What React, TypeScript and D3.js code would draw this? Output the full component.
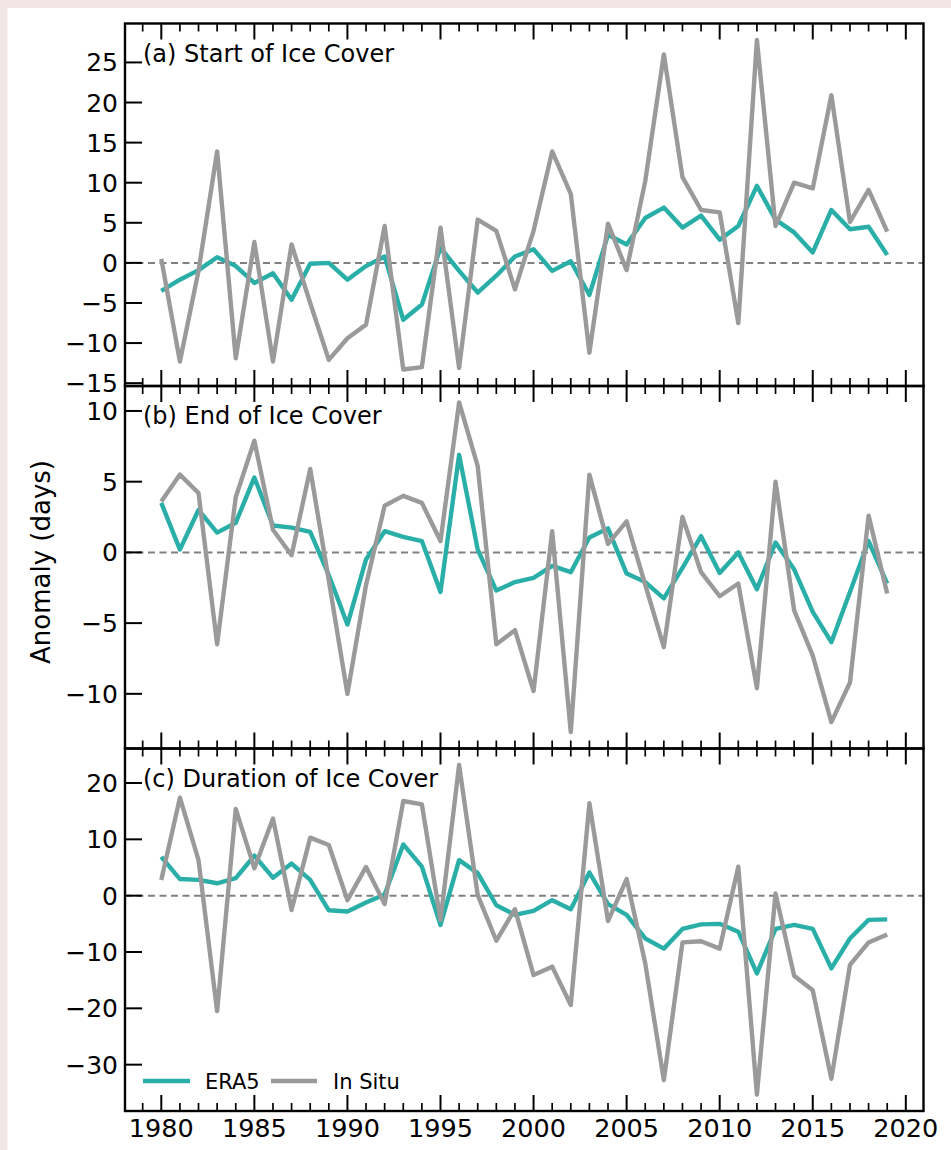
import React from "react";
import * as d3 from "d3";

const years = [1980, 1981, 1982, 1983, 1984, 1985, 1986, 1987, 1988, 1989, 1990, 1991, 1992, 1993, 1994, 1995, 1996, 1997, 1998, 1999, 2000, 2001, 2002, 2003, 2004, 2005, 2006, 2007, 2008, 2009, 2010, 2011, 2012, 2013, 2014, 2015, 2016, 2017, 2018, 2019];

const startEra5 = [-3.5, -2.1, -0.9, 0.7, -0.4, -2.5, -1.3, -4.6, -0.1, 0.0, -2.1, -0.4, 0.8, -7.1, -5.2, 1.9, -1.0, -3.7, -1.6, 0.8, 1.7, -1.0, 0.2, -4.0, 3.5, 2.3, 5.6, 6.9, 4.4, 5.9, 2.9, 4.6, 9.6, 5.4, 3.8, 1.3, 6.6, 4.2, 4.5, 1.0];
const startInSitu = [0.5, -12.3, -1.0, 13.9, -11.9, 2.6, -12.3, 2.3, -5.0, -12.1, -9.4, -7.7, 4.6, -13.3, -13.0, 4.4, -13.1, 5.4, 4.0, -3.3, 4.0, 13.9, 8.6, -11.2, 4.9, -0.9, 10.2, 26.0, 10.7, 6.6, 6.3, -7.5, 27.8, 4.6, 10.0, 9.3, 20.9, 5.1, 9.1, 3.9];

const endEra5 = [3.5, 0.2, 3.0, 1.4, 2.1, 5.3, 1.9, 1.75, 1.45, -1.6, -5.1, -0.5, 1.5, 1.1, 0.8, -2.8, 6.9, 0.2, -2.7, -2.1, -1.8, -0.95, -1.4, 1.05, 1.7, -1.5, -2.1, -3.25, -1.1, 1.15, -1.45, 0.0, -2.6, 0.7, -1.2, -4.2, -6.35, -2.8, 0.8, -2.2];
const endInSitu = [3.6, 5.5, 4.2, -6.5, 3.9, 7.9, 1.6, -0.2, 5.9, -2.0, -10.0, -2.3, 3.3, 4.0, 3.5, 0.8, 10.6, 6.1, -6.5, -5.5, -9.8, 1.5, -12.7, 5.5, 0.6, 2.2, -2.3, -6.7, 2.5, -1.4, -3.1, -2.2, -9.6, 5.0, -4.1, -7.3, -12.0, -9.2, 2.6, -2.9];

const durEra5 = [6.9, 2.95, 2.8, 2.2, 3.1, 7.1, 3.2, 5.7, 2.8, -2.6, -2.8, -1.2, 0.2, 9.1, 5.15, -5.2, 6.3, 4.0, -1.7, -3.4, -2.7, -0.8, -2.4, 4.1, -1.5, -3.4, -7.6, -9.4, -5.9, -5.1, -5.0, -6.4, -13.8, -5.9, -5.2, -5.9, -12.9, -7.6, -4.3, -4.2];
const durInSitu = [2.8, 17.4, 6.3, -20.5, 15.4, 4.85, 13.7, -2.55, 10.3, 9.0, -0.8, 5.1, -1.5, 16.8, 16.2, -4.3, 23.2, 0.1, -8.0, -2.4, -14.1, -12.6, -19.4, 16.4, -4.5, 2.95, -12.0, -32.75, -8.3, -8.1, -9.4, 5.15, -35.3, 0.4, -14.2, -16.8, -32.5, -12.3, -8.3, -6.9];

const panelTitles = ["(a) Start of Ice Cover", "(b) End of Ice Cover", "(c) Duration of Ice Cover"];
const yTicksA = [-15, -10, -5, 0, 5, 10, 15, 20, 25];
const yTicksB = [-10, -5, 0, 5, 10];
const yTicksC = [-30, -20, -10, 0, 10, 20];
const xMajorTicks = [1980, 1985, 1990, 1995, 2000, 2005, 2010, 2015, 2020];
const seriesNames = ["ERA5", "In Situ"];

const TEAL = "#2aaea8";
const GRAY = "#9a9a9a";
const FONT = "'DejaVu Sans', Verdana, sans-serif";

const LEFT = 125;
const RIGHT = 923.5;
const TOP = 23.5;
const PH = 362.5;

const fmt = (v: number) => String(v).replace("-", "\u2212");

function padDomain(lo: number, hi: number): [number, number] {
  const m = (hi - lo) * 0.05;
  return [lo - m, hi + m];
}

export default function App() {
  const [x0, x1] = padDomain(years[0], years[years.length - 1]);
  const x = d3.scaleLinear().domain([x0, x1]).range([LEFT, RIGHT]);
  const minorTicks = d3.range(Math.ceil(x0), Math.floor(x1) + 1).filter((t) => !xMajorTicks.includes(t));

  const panels = [
    { era: startEra5, ins: startInSitu, ticks: yTicksA, title: panelTitles[0] },
    { era: endEra5, ins: endInSitu, ticks: yTicksB, title: panelTitles[1] },
    { era: durEra5, ins: durInSitu, ticks: yTicksC, title: panelTitles[2] },
  ];

  return (
    <svg
      width={951}
      height={1150}
      style={{ position: "absolute", left: 0, top: 0 }}
      fontFamily={FONT}
    >
      <rect x={0} y={0} width={951} height={1150} fill="#f2e5e5" />
      <rect x={7.5} y={8} width={951} height={1150} fill="#ffffff" />
      {panels.map((p, i) => {
        const top = TOP + i * PH;
        const bottom = top + PH;
        const all = [...p.era, ...p.ins];
        const [y0, y1] = padDomain(d3.min(all)!, d3.max(all)!);
        const y = d3.scaleLinear().domain([y0, y1]).range([bottom, top]);
        const line = d3
          .line<number>()
          .x((_, k) => x(years[k]))
          .y((v) => y(v));
        return (
          <g key={i}>
            <line x1={LEFT} x2={RIGHT} y1={y(0)} y2={y(0)} stroke="#808080" strokeWidth={2} strokeDasharray="7,4.5" />
            <path d={line(p.era)!} fill="none" stroke={TEAL} strokeWidth={4.4} strokeLinejoin="round" />
            <path d={line(p.ins)!} fill="none" stroke={GRAY} strokeWidth={4.4} strokeLinejoin="round" />
            {xMajorTicks.map((t) => (
              <g key={"M" + t}>
                <line x1={x(t)} x2={x(t)} y1={top} y2={top + 16} stroke="#000" strokeWidth={2} />
                <line x1={x(t)} x2={x(t)} y1={bottom} y2={bottom - 16} stroke="#000" strokeWidth={2} />
              </g>
            ))}
            {minorTicks.map((t) => (
              <g key={"m" + t}>
                <line x1={x(t)} x2={x(t)} y1={top} y2={top + 8} stroke="#000" strokeWidth={1.7} />
                <line x1={x(t)} x2={x(t)} y1={bottom} y2={bottom - 8} stroke="#000" strokeWidth={1.7} />
              </g>
            ))}
            {p.ticks.map((t) => (
              <g key={"y" + t}>
                <line x1={LEFT} x2={LEFT + 17} y1={y(t)} y2={y(t)} stroke="#000" strokeWidth={2} />
                <text x={LEFT - 7} y={y(t)} dy="0.36em" textAnchor="end" fontSize={25} fill="#000">
                  {fmt(t)}
                </text>
              </g>
            ))}
            <rect x={LEFT} y={top} width={RIGHT - LEFT} height={PH} fill="none" stroke="#000" strokeWidth={2.4} />
            <text x={143} y={top + 38} fontSize={24} fill="#000">
              {p.title}
            </text>
            {i === 2 && (
              <g>
                {xMajorTicks.map((t) => (
                  <text key={"xl" + t} x={x(t)} y={1137} textAnchor="middle" fontSize={25.5} fill="#000">
                    {t}
                  </text>
                ))}
                <line x1={143} x2={190} y1={1081} y2={1081} stroke={TEAL} strokeWidth={4.4} />
                <text x={205} y={1088.5} fontSize={21} fill="#000">{seriesNames[0]}</text>
                <line x1={271} x2={317} y1={1081} y2={1081} stroke={GRAY} strokeWidth={4.4} />
                <text x={333} y={1088.5} fontSize={21} fill="#000">{seriesNames[1]}</text>
              </g>
            )}
          </g>
        );
      })}
      <text transform="translate(50,562) rotate(-90)" textAnchor="middle" fontSize={26} fill="#000">
        Anomaly (days)
      </text>
    </svg>
  );
}
